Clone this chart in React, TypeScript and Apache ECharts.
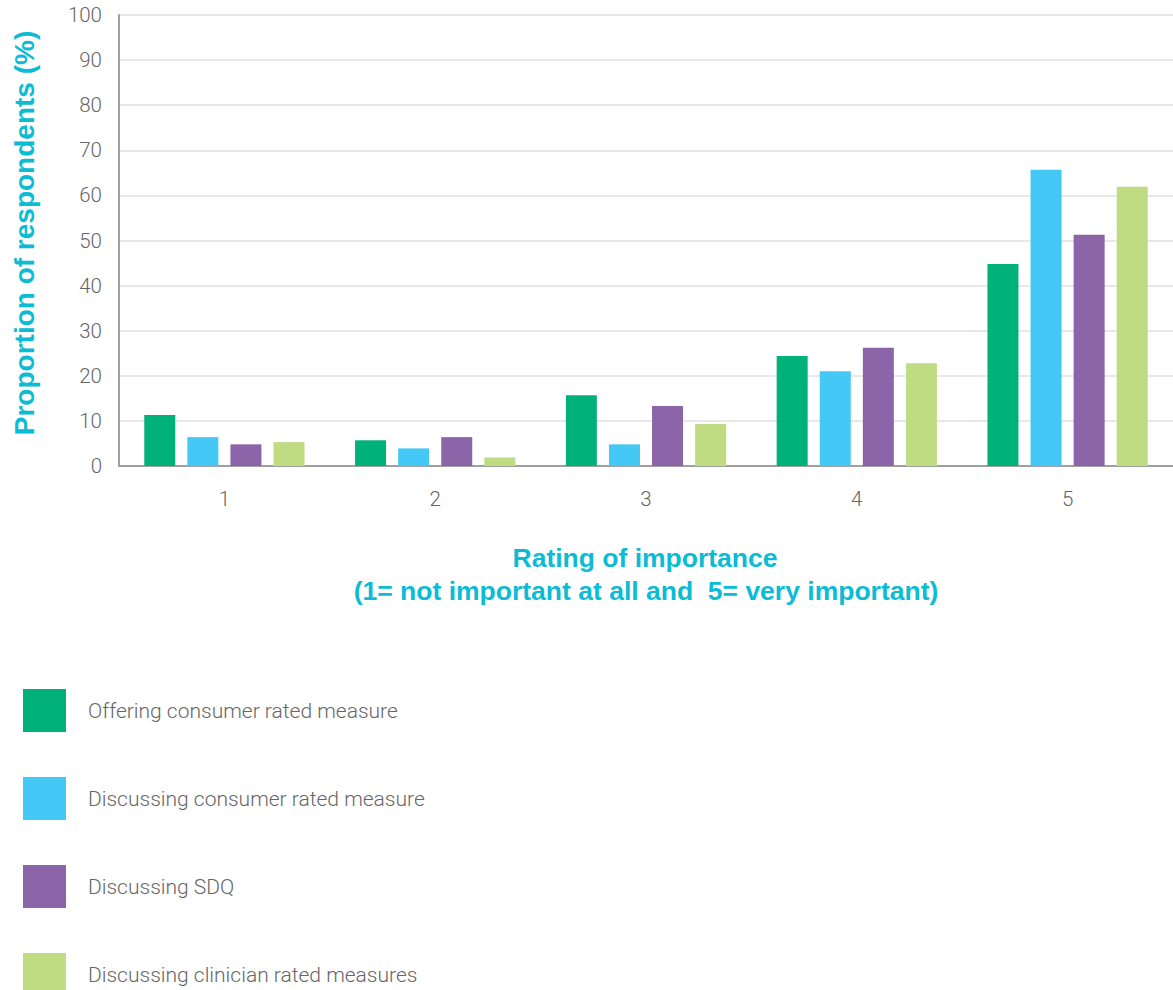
import React, { useEffect, useRef } from "react";
import * as echarts from "echarts";

const categories = ["1", "2", "3", "4", "5"];
const seriesNames = [
  "Offering consumer rated measure",
  "Discussing consumer rated measure",
  "Discussing SDQ",
  "Discussing clinician rated measures",
];
const offeringConsumer = [11.3, 5.7, 15.7, 24.4, 44.8];
const discussingConsumer = [6.4, 3.9, 4.8, 21.0, 65.7];
const discussingSDQ = [4.8, 6.4, 13.3, 26.2, 51.3];
const discussingClinician = [5.3, 1.9, 9.3, 22.8, 61.9];
const colors = ["#00B27A", "#44C8F5", "#8C64A8", "#C0DC82"];
const yTicks = { min: 0, max: 100, interval: 10 };

const xName = "Rating of importance";
const xNameSub = "(1= not important at all and  5= very important)";
const yName = "Proportion of respondents (%)";

export default function App() {
  const ref = useRef<HTMLDivElement>(null);
  useEffect(() => {
    if (!ref.current) return;
    const chart = echarts.init(ref.current, null, { renderer: "svg" });
    const values = [offeringConsumer, discussingConsumer, discussingSDQ, discussingClinician];
    const light = "Roboto, 'Liberation Sans', sans-serif";
    const bold = "'Liberation Sans', Arial, sans-serif";
    chart.setOption({
      animation: false,
      color: colors,
      grid: { left: 119, top: 15, width: 1058, height: 451, containLabel: false },
      legend: {
        orient: "vertical",
        left: 23,
        top: 689,
        height: 500,
        padding: 0,
        itemWidth: 43,
        itemHeight: 43,
        itemGap: 45,
        icon: "rect",
        selectedMode: false,
        textStyle: { fontSize: 21, color: "#666", fontFamily: light, fontWeight: 300, padding: [4, 0, 0, 17] },
        data: seriesNames,
      },
      xAxis: {
        type: "category",
        data: categories,
        axisLine: { lineStyle: { color: "#a0a0a0", width: 2 } },
        axisTick: { inside: true, length: 10, lineStyle: { color: "#a0a0a0", width: 2 } },
        axisLabel: { margin: 22, fontSize: 20.5, color: "#666", fontFamily: light, fontWeight: 300 },
      },
      yAxis: {
        type: "value",
        min: yTicks.min,
        max: yTicks.max,
        interval: yTicks.interval,
        axisLine: { show: true, lineStyle: { color: "#a0a0a0", width: 2 } },
        axisTick: { show: false },
        axisLabel: { margin: 17, fontSize: 20.5, color: "#666", fontFamily: light, fontWeight: 300 },
        splitLine: { lineStyle: { color: "#e8e8e8", width: 2 } },
      },
      graphic: [
        {
          type: "text",
          x: 645,
          y: 558,
          style: {
            text: xName,
            fill: "#0CBBD4",
            font: `bold 26.5px ${bold}`,
            textAlign: "center",
            textVerticalAlign: "middle",
          },
        },
        {
          type: "text",
          x: 646,
          y: 591,
          style: {
            text: xNameSub,
            fill: "#0CBBD4",
            font: `bold 26.5px ${bold}`,
            textAlign: "center",
            textVerticalAlign: "middle",
          },
        },
        {
          type: "text",
          x: 24,
          y: 233,
          rotation: Math.PI / 2,
          style: {
            text: yName,
            fill: "#0CBBD4",
            font: `bold 28px ${bold}`,
            textAlign: "center",
            textVerticalAlign: "middle",
          },
        },
      ],
      series: seriesNames.map((name, i) => ({
        name,
        type: "bar",
        data: values[i],
        barWidth: 31,
        barGap: "39%",
        itemStyle: { color: colors[i] },
      })),
    });
    return () => chart.dispose();
  }, []);
  return (
    <div
      ref={ref}
      style={{ position: "absolute", left: 0, top: 0, width: 1173, height: 990 }}
    />
  );
}
